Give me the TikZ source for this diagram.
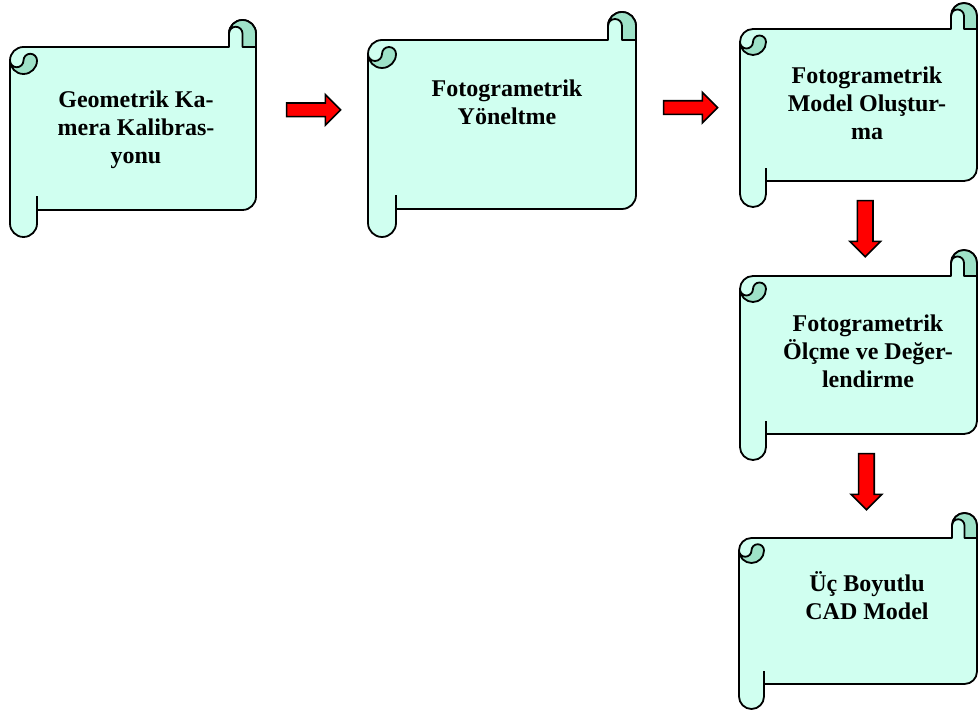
\documentclass[tikz,border=0pt]{standalone}
\usepackage{fontspec}
\setmainfont{Liberation Serif}
\usetikzlibrary{calc,shapes.arrows}
\definecolor{scrollfill}{RGB}{208,255,240}
\definecolor{scrollcurl}{RGB}{158,226,200}
\tikzset{
  scrollline/.style={draw=black, line width=1.8pt, line join=round},
  scrolltext/.style={font=\bfseries\fontsize{24}{28}\selectfont, align=center, inner sep=0pt, anchor=north},
  rarrow/.style={single arrow, draw=black, fill=red, line width=1.6pt, inner sep=6pt,
    minimum height=54pt, minimum width=0pt, single arrow head extend=8.5pt, single arrow head indent=0pt},
  darrow/.style={rarrow, inner sep=7pt, single arrow head extend=7.5pt, minimum height=56pt, rotate=-90}
}
% name, left, bottom, width, height, curl size
\newcommand\drawscroll[6]{%
  \begin{scope}[shift={(#2,#3)}]
    \pgfmathsetmacro\w{#4}\pgfmathsetmacro\h{#5}\pgfmathsetmacro\c{#6}
    \node[inner sep=0pt, minimum width=#4, minimum height=#5, anchor=south west] (#1) at (0,0) {};
    \filldraw[scrollline, fill=scrollfill] (0,{\h-1.5*\c}) arc[start angle=180, end angle=90, radius=\c/2]
      -- ({\w-\c},{\h-\c}) -- ({\w-\c},{\h-\c/2}) arc[start angle=180, end angle=0, radius=\c/2]
      -- (\w,{1.5*\c}) arc[start angle=0, end angle=-90, radius=\c/2]
      -- (\c,\c) -- (\c,{\c/2}) arc[start angle=0, end angle=-180, radius=\c/2] -- cycle;
    % curls
    \filldraw[scrollline, fill=scrollcurl] ({\w-\c},{\h-\c/2}) arc[start angle=180, end angle=0, radius=\c/2]
      -- (\w,{\h-\c}) -- ({\w-\c/2},{\h-\c}) -- ({\w-\c/2},{\h-\c/2}) arc[start angle=0, end angle=180, radius=\c/4] -- cycle;
    \filldraw[scrollline, fill=scrollcurl] ({\c/2},{\h-1.5*\c}) arc[start angle=180, end angle=0, radius=\c/4]
      arc[start angle=0, end angle=-180, radius=\c/2] arc[start angle=180, end angle=360, radius=\c/4] -- cycle;
    \draw[scrollline] (\c,\c) -- (\c,{1.5*\c});
  \end{scope}}
\begin{document}
\begin{tikzpicture}[x=1pt, y=1pt]
\useasboundingbox (0,0) rectangle (979,711);
\drawscroll{s1}{10}{474}{246}{217}{27}
\drawscroll{s2}{368}{474}{268}{225}{28}
\drawscroll{s3}{740}{504}{237}{204}{26}
\drawscroll{s4}{740}{251}{237}{210}{26}
\drawscroll{s5}{739}{2}{238}{196}{25}

\node[scrolltext] (t1) at (136,620) {Geometrik Ka-\\mera Kalibras-\\yonu};
\node[scrolltext] (t2) at (507,631) {Fotogrametrik\\Yöneltme};
\node[scrolltext] (t3) at (867,644) {Fotogrametrik\\Model Oluştur-\\ma};
\node[scrolltext] (t4) at (868,396) {Fotogrametrik\\Ölçme ve Değer-\\lendirme};
\node[scrolltext] (t5) at (867,140) {Üç Boyutlu\\CAD Model};

\node[rarrow] (a1) at ($(s1.east)!0.5!(s2.west)+(-2,16.5)$) {};
\node[rarrow] (a2) at ($(s2.east)!0.5!(s3.west)+(-1,7)$) {};
\node[darrow] (a3) at ($(s3.south)!0.5!(s4.north)+(6.5,3.5)$) {};
\node[darrow] (a4) at ($(s4.south)!0.5!(s5.north)+(8,8.5)$) {};
\end{tikzpicture}
\end{document}
